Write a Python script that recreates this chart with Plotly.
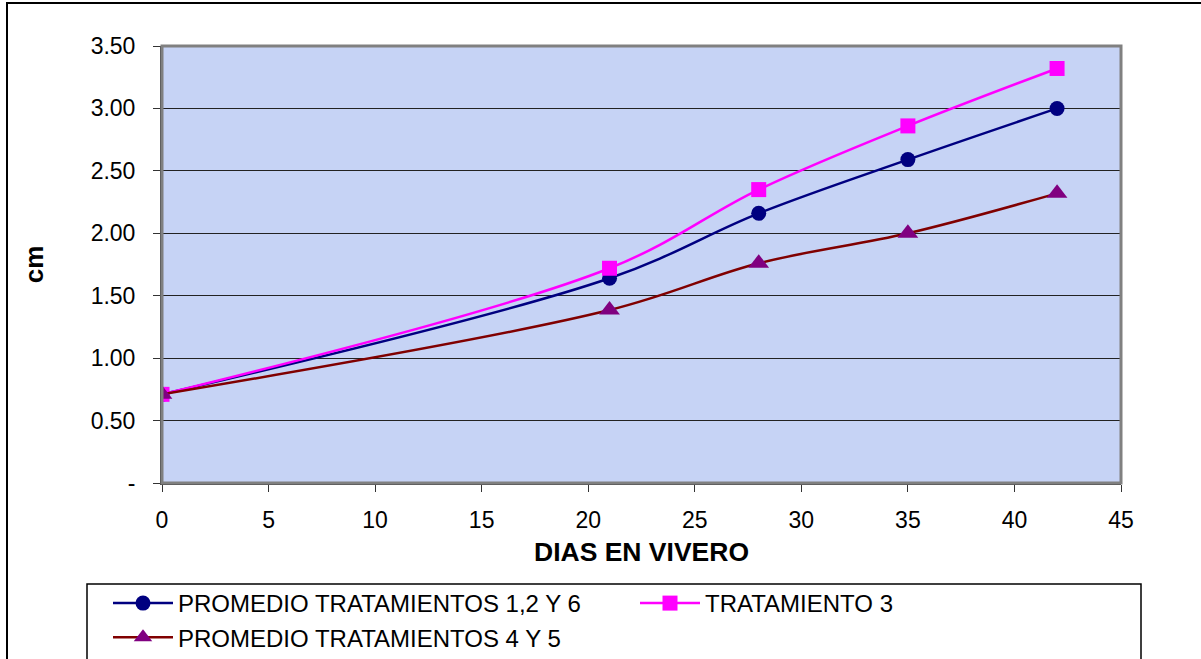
import plotly.graph_objects as go

dias = [0, 21, 28, 35, 42]
prom_126 = [0.71, 1.64, 2.16, 2.59, 3.00]
trat_3 = [0.71, 1.72, 2.35, 2.86, 3.32]
prom_45 = [0.71, 1.385, 1.76, 2.00, 2.32]

y_tickvals = [0, 0.5, 1.0, 1.5, 2.0, 2.5, 3.0, 3.5]
y_ticktext = ["-", "0.50", "1.00", "1.50", "2.00", "2.50", "3.00", "3.50"]
x_tickvals = [0, 5, 10, 15, 20, 25, 30, 35, 40, 45]

FONT = "Liberation Sans, Arial, sans-serif"
W, H = 1201, 659
L, R, T, B = 162, 80, 46, 176
pw, ph = W - L - R, H - T - B

def px_x(p):
    return (p - L) / pw

def px_y(p):
    return (H - B - p) / ph

fig = go.Figure()
fig.add_trace(go.Scatter(
    x=dias, y=prom_126, name="PROMEDIO TRATAMIENTOS 1,2 Y 6",
    mode="lines+markers", line=dict(color="#000080", width=2.5, shape="spline", smoothing=1),
    marker=dict(symbol="circle", size=15, color="#000080")))
fig.add_trace(go.Scatter(
    x=dias, y=trat_3, name="TRATAMIENTO 3",
    mode="lines+markers", line=dict(color="#FF00FF", width=2.5, shape="spline", smoothing=1),
    marker=dict(symbol="square", size=15, color="#FF00FF")))
fig.add_trace(go.Scatter(
    x=dias, y=prom_45, name="PROMEDIO TRATAMIENTOS 4 Y 5",
    mode="lines+markers", line=dict(color="#800000", width=2.5, shape="spline", smoothing=1),
    marker=dict(symbol="triangle-up", size=18, color="#800080")))

fig.update_layout(
    width=W, height=H,
    margin=dict(l=L, r=R, t=T, b=B, autoexpand=False),
    paper_bgcolor="white",
    plot_bgcolor="#C6D3F5",
    font=dict(family=FONT, size=23, color="black"),
    showlegend=True,
    legend=dict(
        orientation="h", x=px_x(108), xanchor="left", y=px_y(581), yanchor="top",
        bgcolor="rgba(0,0,0,0)", borderwidth=0,
        font=dict(family=FONT, size=24, color="black"),
        entrywidth=452, entrywidthmode="pixels", itemwidth=60, tracegroupgap=0,
    ),
    xaxis=dict(
        range=[0, 45], tickvals=x_tickvals, ticks="outside", ticklen=7, tickcolor="#333",
        tickwidth=1, showgrid=False, zeroline=False, showline=True, linecolor="#404040",
        linewidth=2, tickfont=dict(size=23), ticklabelstandoff=8,
        title=dict(text="<b>DIAS EN VIVERO</b>", font=dict(size=26.5), standoff=11),
    ),
    yaxis=dict(
        range=[0, 3.5], tickvals=y_tickvals, ticktext=y_ticktext, ticks="outside", ticklen=7,
        tickcolor="#333", tickwidth=1, showgrid=True, gridcolor="#222", gridwidth=1,
        zeroline=False, showline=True, linecolor="#404040", linewidth=2,
        tickfont=dict(size=23), ticklabelstandoff=13,
        title=dict(text="<b>cm</b>", font=dict(size=26), standoff=40),
    ),
    shapes=[
        dict(type="rect", xref="x domain", yref="y domain", x0=0, x1=1, y0=0, y1=1,
             line=dict(color="#808080", width=3), layer="above"),
        dict(type="rect", xref="paper", yref="paper",
             x0=px_x(87), x1=px_x(1141), y0=px_y(720), y1=px_y(584),
             line=dict(color="black", width=1.5), fillcolor="white", layer="below"),
        dict(type="rect", xref="paper", yref="paper",
             x0=px_x(7), x1=px_x(1215), y0=px_y(720), y1=px_y(3),
             line=dict(color="black", width=2), layer="above"),
    ],
)

fig.write_html("out.html")
